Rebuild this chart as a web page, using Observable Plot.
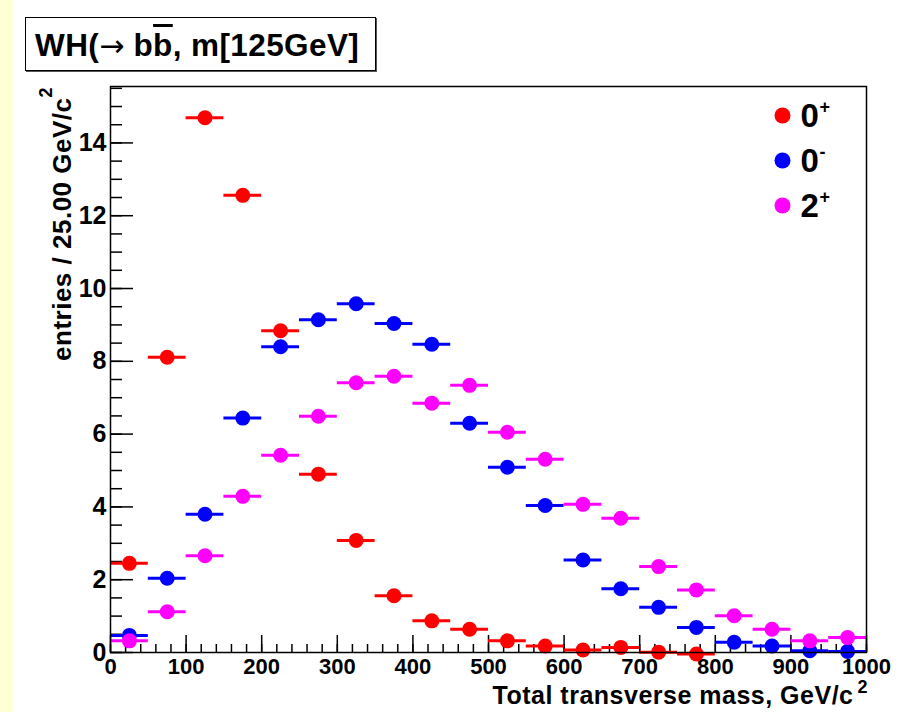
<!DOCTYPE html>
<html>
<head>
<meta charset="utf-8">
<script src="https://cdn.jsdelivr.net/npm/d3@7"></script>
<script src="https://cdn.jsdelivr.net/npm/@observablehq/plot@0.6"></script>
<style>
  html, body { margin: 0; padding: 0; background: #ffffff; }
  #wrap { position: relative; width: 903px; height: 712px; overflow: hidden; font-family: "Liberation Sans", Arial, Helvetica, sans-serif; }
  #strip { position: absolute; left: 0; top: 0; width: 13px; height: 712px; background: #ffffd4; }
  #title { position: absolute; left: 25px; top: 17px; width: 351px; height: 54px; border: 1.5px solid #000; box-shadow: 1px 1px 0 #555; background: #fff; font-weight: bold; font-size: 31.5px; line-height: 54px; padding-left: 9px; box-sizing: border-box; white-space: nowrap; letter-spacing: 0.4px; }
  #title .ol { text-decoration: overline; }
  #title .arr { font-weight: normal; font-size: 30px; font-family: "DejaVu Sans", sans-serif; letter-spacing: 0; }
  #chart { position: absolute; left: 0; top: 0; }
</style>
</head>
<body>
<div id="wrap">
  <div id="strip"></div>
  <div id="chart"></div>
  <div id="title">WH(<span class="arr">→</span> b<span class="ol">b</span>, m[125GeV]</div>
</div>
<script>
// Bin centres (GeV/c^2), bin width 50
const binCenters = [25, 75, 125, 175, 225, 275, 325, 375, 425, 475, 525, 575, 625, 675, 725, 775, 825, 875, 925, 975];
const binHalfWidth = 25;
const seriesNames = ["0+", "0-", "2+"];
const seriesColors = ["#ff0000", "#0000ff", "#ff00ff"];
const legendBase = ["0", "0", "2"];
const legendSup = ["+", "-", "+"];
// 0+
const valuesZeroPlus = [2.45, 8.11, 14.69, 12.56, 8.84, 4.9, 3.08, 1.56, 0.87, 0.64, 0.32, 0.18, 0.07, 0.14, 0.01, -0.04, null, null, null, null];
// 0-
const valuesZeroMinus = [0.47, 2.04, 3.8, 6.44, 8.4, 9.14, 9.58, 9.04, 8.47, 6.3, 5.09, 4.04, 2.54, 1.75, 1.24, 0.69, 0.28, 0.18, 0.05, 0.03];
// 2+
const valuesTwoPlus = [0.32, 1.12, 2.66, 4.29, 5.42, 6.49, 7.41, 7.59, 6.85, 7.34, 6.05, 5.31, 4.07, 3.69, 2.36, 1.72, 1.01, 0.64, 0.32, 0.41];
const xMajorTicks = [0, 100, 200, 300, 400, 500, 600, 700, 800, 900, 1000];
const yMajorTicks = [0, 2, 4, 6, 8, 10, 12, 14];
const xTitle = "Total transverse mass, GeV/c";
const yTitle = "entries / 25.00 GeV/c";
const titleSup = "2";

const allSeries = [valuesZeroPlus, valuesZeroMinus, valuesTwoPlus];
const rows = [];
allSeries.forEach((vals, si) => {
  vals.forEach((v, i) => {
    if (v !== null) rows.push({x: binCenters[i], y: v, s: seriesNames[si]});
  });
});
const xMinorTicks = d3.range(0, 1000.1, 20);
const yMinorTicks = d3.range(0, 15.6, 0.5);

const font = "'Liberation Sans', Arial, Helvetica, sans-serif";

const legendMarks = [];
seriesNames.forEach((s, i) => {
  const dy = 29 + i * 45;
  legendMarks.push(Plot.dot([s], {frameAnchor: "top-right", dx: -84, dy, r: 8, fill: seriesColors[i], stroke: null}));
  legendMarks.push(Plot.text([legendBase[i]], {frameAnchor: "top-right", dx: -66, dy: dy + 1, textAnchor: "start", lineAnchor: "middle", fontSize: 33, fontWeight: "bold", fill: "black"}));
  legendMarks.push(Plot.text([legendSup[i]], {frameAnchor: "top-right", dx: -47, dy: dy - 8, textAnchor: "start", lineAnchor: "middle", fontSize: 18, fontWeight: "bold", fill: "black"}));
});

const chart = Plot.plot({
  width: 903,
  height: 712,
  marginLeft: 110,
  marginRight: 37,
  marginTop: 86,
  marginBottom: 60,
  style: {background: "transparent", fontFamily: font, color: "black"},
  x: {domain: [0, 1000]},
  y: {domain: [0, 15.55]},
  color: {domain: seriesNames, range: seriesColors},
  marks: [
    // minor ticks (inside)
    Plot.axisX(xMinorTicks, {tickSize: -8, tickFormat: () => "", strokeWidth: 1.5, label: null}),
    Plot.axisY(yMinorTicks, {tickSize: -12, tickFormat: () => "", strokeWidth: 1.5, label: null}),
    // major ticks (inside)
    Plot.axisX(xMajorTicks, {tickSize: -17, tickFormat: () => "", strokeWidth: 1.5, label: null}),
    Plot.axisY(yMajorTicks, {tickSize: -23, tickFormat: () => "", strokeWidth: 1.5, label: null}),
    // tick labels
    Plot.axisX(xMajorTicks, {tickSize: 0, tickPadding: 6, tickFormat: d3.format("d"), fontSize: 22, fontWeight: "bold", label: null}),
    Plot.axisY(yMajorTicks, {tickSize: 0, tickPadding: 4, tickFormat: d3.format("d"), fontSize: 25, fontWeight: "bold", label: null}),
    // error bars
    Plot.ruleY(rows, {y: "y", x1: d => d.x - binHalfWidth, x2: d => d.x + binHalfWidth, stroke: "s", strokeWidth: 3}),
    Plot.dot(rows, {x: "x", y: "y", r: 7.5, fill: "s", stroke: null}),
    Plot.frame({stroke: "black", strokeWidth: 1.5}),
    // axis titles
    Plot.text([xTitle], {frameAnchor: "bottom-right", dx: -13, dy: 51, textAnchor: "end", lineAnchor: "bottom", fontSize: 25, fontWeight: "bold", fill: "black"}),
    Plot.text([titleSup], {frameAnchor: "bottom-right", dx: -4, dy: 35, textAnchor: "middle", lineAnchor: "middle", fontSize: 18, fontWeight: "bold", fill: "black"}),
    Plot.text([yTitle], {frameAnchor: "top-left", dx: -40, dy: 11, rotate: -90, textAnchor: "end", lineAnchor: "bottom", fontSize: 26, fontWeight: "bold", fill: "black"}),
    Plot.text([titleSup], {frameAnchor: "top-left", dx: -64, dy: 6, rotate: -90, textAnchor: "middle", lineAnchor: "middle", fontSize: 18, fontWeight: "bold", fill: "black"}),
    ...legendMarks
  ]
});
// widen the axis titles slightly, like the reference's stretched lettering
d3.select(chart).selectAll("text").filter(function() {
  const t = this.textContent;
  return t === xTitle || t === yTitle;
}).attr("letter-spacing", "0.5px");
document.getElementById("chart").appendChild(chart);
</script>
</body>
</html>
